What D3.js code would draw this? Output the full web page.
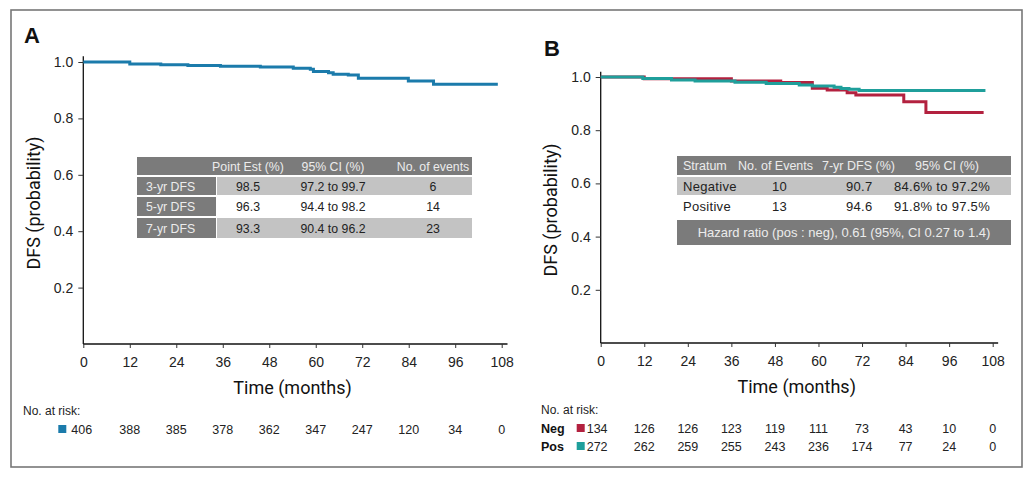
<!DOCTYPE html>
<html>
<head>
<meta charset="utf-8">
<script src="https://cdn.jsdelivr.net/npm/d3@7"></script>
<style>
  body { margin: 0; background: #fff; }
  svg { display: block; font-family: "Liberation Sans", Arial, sans-serif; }
</style>
</head>
<body>
<svg id="chart" width="1034" height="478"></svg>
<script>
// tick labels
const timeTicks = [0, 12, 24, 36, 48, 60, 72, 84, 96, 108];
const survTicks = [0.2, 0.4, 0.6, 0.8, 1.0];

// panel A: all patients (step times in months, survival after each step)
const allTimes = [0, 12, 20, 27, 35.4, 45.7, 54.2, 58.6, 59.4, 63.3, 64.5, 68.4, 71, 83.9, 90.4, 107];
const allSurv = [1.0, 0.993, 0.99, 0.988, 0.985, 0.982, 0.978, 0.974, 0.966, 0.962, 0.957, 0.954, 0.942, 0.933, 0.921, 0.921];
const allAtRisk = [406, 388, 385, 378, 362, 347, 247, 120, 34, 0];

// panel B: negative / positive strata
const negTimes = [0, 12, 36, 49.6, 58.3, 62.4, 67.9, 70.3, 83.5, 89.6, 105.5];
const negSurv = [1.0, 0.993, 0.985, 0.979, 0.958, 0.951, 0.941, 0.932, 0.907, 0.867, 0.867];
const posTimes = [0, 11.6, 19.5, 26, 37, 45.6, 54.7, 58.3, 64.3, 66.2, 68.4, 71.2, 106];
const posSurv = [1.0, 0.994, 0.989, 0.985, 0.98, 0.976, 0.97, 0.966, 0.961, 0.957, 0.954, 0.949, 0.949];
const negAtRisk = [134, 126, 126, 123, 119, 111, 73, 43, 10, 0];
const posAtRisk = [272, 262, 259, 255, 243, 236, 174, 77, 24, 0];

// tables
const tableAHeader = ["", "Point Est (%)", "95% CI (%)", "No. of events"];
const tableARows = [
    ["3-yr DFS", "98.5", "97.2 to 99.7", "6"],
    ["5-yr DFS", "96.3", "94.4 to 98.2", "14"],
    ["7-yr DFS", "93.3", "90.4 to 96.2", "23"]
];
const tableBHeader = ["Stratum", "No. of Events", "7-yr DFS (%)", "95% CI (%)"];
const tableBRows = [
    ["Negative", "10", "90.7", "84.6% to 97.2%"],
    ["Positive", "13", "94.6", "91.8% to 97.5%"]
];
const hazardNote = "Hazard ratio (pos : neg), 0.61 (95%, CI 0.27 to 1.4)";

const colors = { all: "#1b7bab", neg: "#b3213f", pos: "#1f9f9b" };
const darkCell = "#7b7b7b";
const lightCell = "#c3c3c3";
const lightText = "#ececec";

const svg = d3.select("#chart");

// outer frame
svg.append("rect")
    .attr("x", 11).attr("y", 10)
    .attr("width", 1011).attr("height", 457)
    .attr("fill", "none")
    .attr("stroke", "#777")
    .attr("stroke-width", 1.6);

function drawPanel(p) {
    const g = svg.append("g");
    const x = d3.scaleLinear().domain([0, 108]).range([p.x0, p.x1]);
    const y = d3.scaleLinear().domain([0, 1]).range([p.yBottom, p.yTop]);

    // axes lines (extend a little beyond the last ticks)
    g.append("line")
        .attr("x1", x(0)).attr("x2", x(109.5))
        .attr("y1", y(0)).attr("y2", y(0))
        .attr("stroke", "#111").attr("stroke-width", 1.3);
    g.append("line")
        .attr("x1", x(0)).attr("x2", x(0))
        .attr("y1", y(0)).attr("y2", y(1.02))
        .attr("stroke", "#111").attr("stroke-width", 1.3);

    const xAxis = g.append("g")
        .attr("transform", `translate(0, ${y(0)})`)
        .call(d3.axisBottom(x).tickValues(timeTicks).tickSize(4).tickPadding(9));
    const yAxis = g.append("g")
        .attr("transform", `translate(${x(0)}, 0)`)
        .call(d3.axisLeft(y).tickValues(survTicks).tickFormat(d3.format(".1f")).tickSize(5).tickPadding(5));
    [xAxis, yAxis].forEach(a => {
        a.select(".domain").remove();
        a.selectAll("line").attr("stroke", "#333");
        a.selectAll("text").attr("font-size", 14).attr("fill", "#222")
            .attr("font-family", "Liberation Sans, Arial, sans-serif");
    });

    // titles
    g.append("text")
        .text(p.letter)
        .attr("x", p.letterX).attr("y", p.letterY)
        .attr("font-size", 22).attr("font-weight", "bold").attr("fill", "#111");
    g.append("text")
        .text("Time (months)")
        .attr("x", (p.x0 + p.x1) / 2).attr("y", y(0) + 50)
        .attr("text-anchor", "middle")
        .attr("font-family", "Roboto, sans-serif")
        .attr("font-size", 18).attr("fill", "#111");
    g.append("text")
        .text("DFS (probability)")
        .attr("transform", `translate(${p.yLabelX}, ${y(0.5)}) rotate(-90)`)
        .attr("text-anchor", "middle")
        .attr("font-family", "Roboto, sans-serif")
        .attr("font-size", 18).attr("fill", "#111");

    // survival curves
    const line = d3.line()
        .x(d => x(d[0]))
        .y(d => y(d[1]))
        .curve(d3.curveStepAfter);
    p.series.forEach(s => {
        g.append("path")
            .datum(d3.zip(s.times, s.surv))
            .attr("d", line)
            .attr("fill", "none")
            .attr("stroke", s.color)
            .attr("stroke-width", 3);
    });

    // number at risk
    g.append("text")
        .text("No. at risk:")
        .attr("x", p.riskLabelX).attr("y", y(0) + 71)
        .attr("font-size", 12).attr("fill", "#222");
    p.series.forEach((s, si) => {
        const rowY = y(0) + 90 + si * 18;
        if (s.name) {
            g.append("text")
                .text(s.name)
                .attr("x", p.riskLabelX).attr("y", rowY)
                .attr("font-size", 12.5).attr("font-weight", "bold").attr("fill", "#111");
        }
        g.append("rect")
            .attr("x", x(0) - p.squareOffset).attr("y", rowY - 9)
            .attr("width", 8).attr("height", 8)
            .attr("fill", s.color);
        g.selectAll(null)
            .data(s.atRisk)
            .enter()
            .append("text")
            .text(d => d)
            .attr("x", (d, i) => i === 0 ? x(0) - p.squareOffset + p.firstGap : x(timeTicks[i]))
            .attr("y", rowY)
            .attr("text-anchor", (d, i) => i === 0 ? "start" : "middle")
            .attr("font-size", 12.5).attr("fill", "#222");
    });
    return g;
}

// panel A
const gA = drawPanel({
    letter: "A", letterX: 24, letterY: 43,
    x0: 83.3, x1: 501.7, yTop: 62, yBottom: 344,
    yLabelX: 40, riskLabelX: 23, squareOffset: 25, firstGap: 13,
    series: [{ times: allTimes, surv: allSurv, color: colors.all, atRisk: allAtRisk }]
});

// panel B
const gB = drawPanel({
    letter: "B", letterX: 544, letterY: 56,
    x0: 600.7, x1: 992.7, yTop: 77, yBottom: 343,
    yLabelX: 557, riskLabelX: 541, squareOffset: 24, firstGap: 10,
    series: [
        { name: "Neg", times: negTimes, surv: negSurv, color: colors.neg, atRisk: negAtRisk },
        { name: "Pos", times: posTimes, surv: posSurv, color: colors.pos, atRisk: posAtRisk }
    ]
});

// table A
const tA = { x0: 137, x1: 472, labelW: 79, rows: [[157, 175], [177, 195], [197, 216], [218, 238]] };
const colA = [176, 248, 333, 433];
tA.rows.forEach((r, i) => {
    const h = r[1] - r[0];
    if (i === 0) {
        gA.append("rect").attr("x", tA.x0).attr("y", r[0]).attr("width", tA.x1 - tA.x0).attr("height", h).attr("fill", darkCell);
    } else {
        gA.append("rect").attr("x", tA.x0).attr("y", r[0]).attr("width", tA.labelW).attr("height", h).attr("fill", darkCell);
        gA.append("rect").attr("x", tA.x0 + tA.labelW + 1).attr("y", r[0]).attr("width", tA.x1 - tA.x0 - tA.labelW - 1).attr("height", h)
            .attr("fill", i === 2 ? "#fff" : lightCell);
    }
    const cells = i === 0 ? tableAHeader : tableARows[i - 1];
    cells.forEach((c, j) => {
        gA.append("text")
            .text(c)
            .attr("x", j === 0 ? tA.x0 + 9 : colA[j])
            .attr("y", r[0] + h / 2 + 4.5)
            .attr("text-anchor", j === 0 ? "start" : "middle")
            .attr("font-size", 12.3)
            .attr("fill", i === 0 || j === 0 ? lightText : "#222");
    });
});

// table B
const tB = { x0: 677, x1: 1011, rows: [[156, 175], [177, 195], [197, 215]], hazard: [220, 245] };
const colB = [683, 738, 822, 947];
const colBData = [683, 772, 846, 942];
tB.rows.forEach((r, i) => {
    const h = r[1] - r[0];
    gB.append("rect").attr("x", tB.x0).attr("y", r[0]).attr("width", tB.x1 - tB.x0).attr("height", h)
        .attr("fill", i === 0 ? darkCell : i === 1 ? lightCell : "#fff");
    const cells = i === 0 ? tableBHeader : tableBRows[i - 1];
    cells.forEach((c, j) => {
        gB.append("text")
            .text(c)
            .attr("x", i === 0 ? colB[j] : colBData[j])
            .attr("y", r[0] + h / 2 + 4.8)
            .attr("text-anchor", j === 3 ? "middle" : "start")
            .attr("font-size", i === 0 ? 12.5 : 13)
            .attr("letter-spacing", i === 0 ? 0 : 0.3)
            .attr("fill", i === 0 ? lightText : "#222");
    });
});
gB.append("rect").attr("x", tB.x0).attr("y", tB.hazard[0]).attr("width", tB.x1 - tB.x0).attr("height", tB.hazard[1] - tB.hazard[0]).attr("fill", darkCell);
gB.append("text")
    .text(hazardNote)
    .attr("x", (tB.x0 + tB.x1) / 2).attr("y", (tB.hazard[0] + tB.hazard[1]) / 2 + 4.8)
    .attr("text-anchor", "middle")
    .attr("font-size", 13).attr("fill", lightText);
</script>
</body>
</html>
